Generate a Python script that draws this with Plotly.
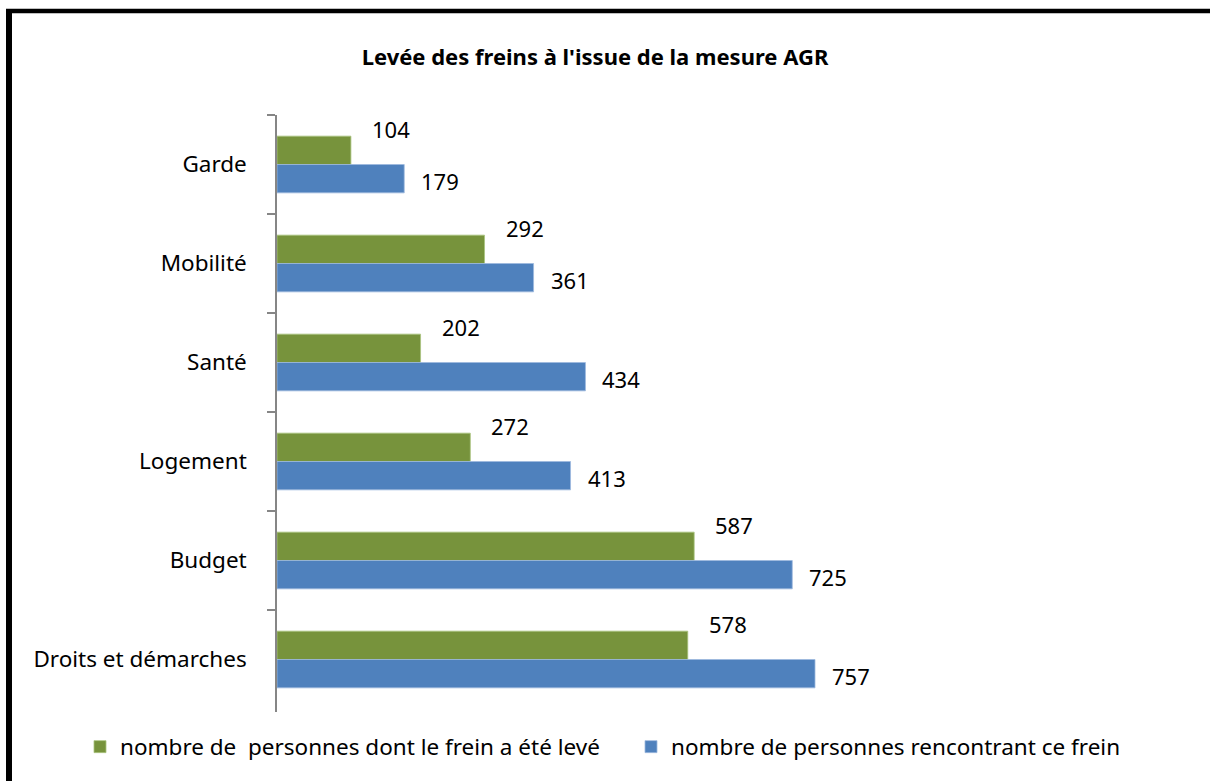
import plotly.graph_objects as go

categories = ["Garde", "Mobilité", "Santé", "Logement", "Budget", "Droits et démarches"]
leves = [104, 292, 202, 272, 587, 578]
rencontres = [179, 361, 434, 413, 725, 757]
series_names = ["nombre de  personnes dont le frein a été levé",
                "nombre de personnes rencontrant ce frein"]
title_text = "Levée des freins à l'issue de la mesure AGR"

W, H = 1210, 781
L, R, T, B = 277, 20, 115, 69
FONT = "Noto Sans"
GREEN = "#77933C"
BLUE = "#4F81BD"
PX_PER_UNIT = 538 / 757.0  # horizontal scale of the reference

fig = go.Figure()
fig.add_trace(go.Bar(y=categories, x=leves, orientation="h", name=series_names[0],
                     marker=dict(color=GREEN, line=dict(color="#A9C47F", width=0.8))))
fig.add_trace(go.Bar(y=categories, x=rencontres, orientation="h", name=series_names[1],
                     marker=dict(color=BLUE, line=dict(color="#9DB9DE", width=0.8))))

annotations = []
for c, v in zip(categories, leves):
    annotations.append(dict(x=v, y=c, xref="x", yref="y", text=str(v), showarrow=False,
                            xanchor="left", yanchor="middle", xshift=19, yshift=35.5,
                            font=dict(family=FONT, size=22, color="black")))
for c, v in zip(categories, rencontres):
    annotations.append(dict(x=v, y=c, xref="x", yref="y", text=str(v), showarrow=False,
                            xanchor="left", yanchor="middle", xshift=15, yshift=-16,
                            font=dict(family=FONT, size=22, color="black")))

pw = W - L - R
ph = H - T - B
def px2x(p):
    return (p - L) / pw
def py2y(p):
    return (H - B - p) / ph

shapes = [
    dict(type="line", xref="paper", yref="paper", x0=px2x(9), x1=px2x(9),
         y0=py2y(9), y1=py2y(800), line=dict(color="black", width=6)),
    dict(type="line", xref="paper", yref="paper", x0=px2x(6), x1=px2x(1230),
         y0=py2y(11), y1=py2y(11), line=dict(color="black", width=4.5)),
]

fig.update_layout(
    width=W, height=H,
    margin=dict(l=L, r=R, t=T, b=B),
    paper_bgcolor="white", plot_bgcolor="white",
    barmode="group", bargap=0.427, bargroupgap=0,
    title=dict(text="<b>" + title_text + "</b>", x=595 / W, xref="container", xanchor="center",
               y=1 - 57 / H, yref="container", yanchor="middle",
               font=dict(family=FONT, size=22, color="black")),
    showlegend=True,
    legend=dict(orientation="h", xref="paper", yref="paper",
                x=px2x(80), xanchor="left", y=py2y(747), yanchor="middle",
                entrywidth=506, entrywidthmode="pixels",
                font=dict(family=FONT, size=22.5, color="black"), traceorder="normal",
                itemclick=False),
    xaxis=dict(range=[0, pw / PX_PER_UNIT], visible=False, fixedrange=True),
    yaxis=dict(categoryorder="array", categoryarray=categories, autorange="reversed",
               showline=True, linecolor="#868686", linewidth=1.5,
               ticks="outside", ticklen=8, tickcolor="#868686", tickwidth=1.5,
               tickson="boundaries", ticklabelstandoff=24, showgrid=False,
               tickfont=dict(family=FONT, size=22.5, color="black")),
    annotations=annotations,
    shapes=shapes,
)

fig.write_html("out.html", config={"displayModeBar": False},
               post_script="document.body.style.margin='0';")
